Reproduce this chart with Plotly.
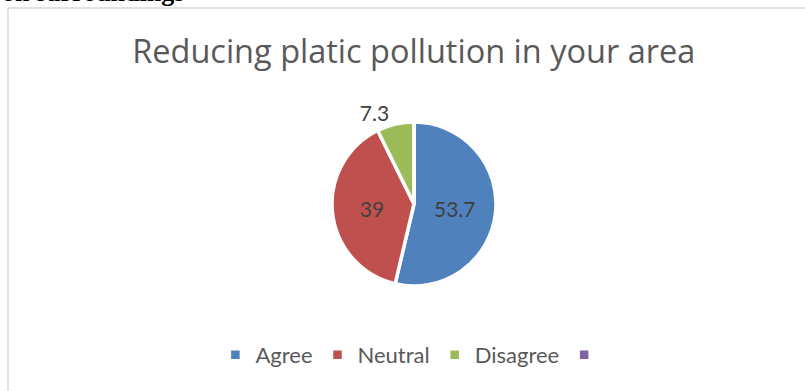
import plotly.graph_objects as go

# Data
categories = ["Agree", "Neutral", "Disagree", " "]
values = [53.7, 39, 7.3, 0]
label_text = ["53.7", "39", "7.3", ""]
colors = ["#4f81bd", "#c0504d", "#9bbb59", "#8064a2"]
title_text = "Reducing platic pollution in your area"
header_text = "on surroundings"

W, H = 805, 391
cx, cy, r = 414, 204, 82

fig = go.Figure()
fig.add_trace(go.Pie(
    labels=categories,
    values=values,
    text=label_text,
    textinfo="text",
    textposition=["inside", "inside", "outside", "none"],
    insidetextorientation="horizontal",
    marker=dict(colors=colors, line=dict(color="white", width=3.5)),
    sort=False,
    direction="clockwise",
    rotation=0,
    textfont=dict(family="Lato", size=21, color="#404040"),
    outsidetextfont=dict(family="Lato", size=21, color="#404040"),
    insidetextfont=dict(family="Lato", size=21, color="#404040"),
    hoverinfo="label+value",
    showlegend=True,
    domain=dict(x=[(cx - r) / W, (cx + r) / W], y=[1 - (cy + r) / H, 1 - (cy - r) / H]),
))

fig.update_layout(
    width=W, height=H,
    margin=dict(l=0, r=0, t=0, b=0),
    paper_bgcolor="white",
    plot_bgcolor="white",
    title=dict(text=title_text, x=0.514, xanchor="center", y=1 - 52 / H, yanchor="middle",
               font=dict(family="Open Sans", size=32.5, color="#595959")),
    legend=dict(orientation="h", x=0.516, xanchor="center", y=1 - 355 / H, yanchor="middle",
                font=dict(family="Lato", size=22, color="#595959"), traceorder="normal"),
    shapes=[
        dict(type="line", xref="paper", yref="paper", x0=8 / W, x1=1, y0=1 - 8 / H, y1=1 - 8 / H,
             line=dict(color="#d9d9d9", width=1.5)),
        dict(type="line", xref="paper", yref="paper", x0=8 / W, x1=8 / W, y0=0, y1=1 - 8 / H,
             line=dict(color="#d9d9d9", width=1.5)),
    ],
    annotations=[
        dict(text="<b>" + header_text + "</b>", xref="paper", yref="paper", x=0, y=1,
             xanchor="left", yanchor="bottom", yshift=-9, showarrow=False,
             font=dict(family="Liberation Serif", size=26, color="black")),
    ],
)

fig.write_html("out.html")
